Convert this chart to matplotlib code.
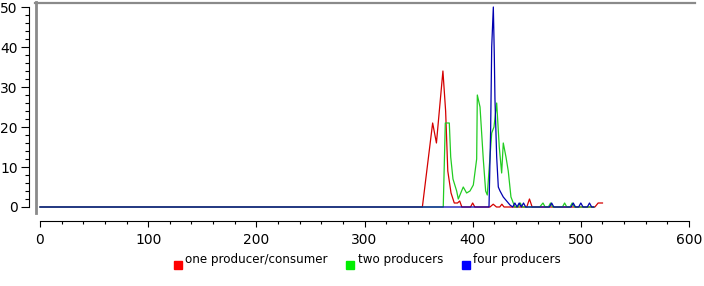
import matplotlib
matplotlib.use("Agg")
import matplotlib.pyplot as plt
from matplotlib.lines import Line2D
from matplotlib.legend_handler import HandlerLine2D
from matplotlib.ticker import MultipleLocator

plt.rcParams['font.family'] = ['DejaVu Sans']

# values
RED_X = [0, 353.5, 363, 366.5, 372.5, 375, 377, 380, 383, 386, 388, 390,
         398, 400, 402, 416, 419, 422, 425, 427, 429, 450, 452.5, 455,
         513, 516, 520]
RED_Y = [0, 0, 21, 16, 34, 24, 9, 3.5, 1, 1, 1.5, 0,
         0, 1, 0, 0, 0.7, 0, 0, 0.7, 0, 0, 2, 0,
         0, 1, 1]

GREEN_X = [0, 372.8, 374.7, 378.4, 379.7, 381.8, 385.2, 386.7, 391.3, 394.4,
           397.5, 400.6, 403.7, 404.3, 406.8, 409.8, 412, 413.5, 417.6, 419.7,
           422.2, 424.6, 426.8, 428.3, 430.8, 432.9, 435.4, 439, 442, 444,
           446, 462, 465, 467, 470, 472, 474, 483, 485, 487, 490, 492, 494,
           496, 512]
GREEN_Y = [0, 0, 21, 21, 12.5, 7, 4, 2, 5, 3.5,
           4, 5.5, 12, 28, 25, 12, 4, 3, 18.5, 20,
           26, 15, 8.5, 16, 12.5, 9, 2.5, 0, 0, 1,
           0, 0, 1, 0, 0, 1, 0, 0, 1, 0, 0, 1, 0,
           0, 0]

BLUE_X = [0, 415.1, 416.6, 417.6, 419.1, 420.0, 420.6, 422.2, 423.7, 425.3,
          428.3, 431.4, 434.5, 437, 439, 441, 443, 445, 447, 449, 471, 473,
          475, 491, 493, 495, 498, 500, 502, 506, 508, 510, 512]
BLUE_Y = [0, 0, 19, 40, 50, 38, 27, 12.5, 5, 4,
          2.5, 1.5, 0.5, 0, 1, 0, 1, 0, 1, 0, 0, 1,
          0, 0, 1, 0, 0, 1, 0, 0, 1, 0, 0]

LABELS = ['one producer/consumer', 'two producers', 'four producers']
LINE_COLORS = ['#d40000', '#22cc22', '#0000b0']
LEGEND_COLORS = ['#ff0000', '#00ee00', '#0000ff']


class LowMarker(HandlerLine2D):
    # legend square sits a bit below the text, like the original
    def create_artists(self, legend, orig_handle, xdescent, ydescent,
                       width, height, fontsize, trans):
        return super().create_artists(legend, orig_handle, xdescent,
                                      ydescent + 1.0 * fontsize, width, height,
                                      fontsize, trans)


W, H = 704, 286
fig = plt.figure(figsize=(W / 100, H / 100), dpi=100)

# plot area: x 0..600 -> px 40..689, y 0..50 -> py 207..7
ax = fig.add_axes([40 / W, (H - 207) / H, 649 / W, 200 / H])
ax.set_xlim(0, 600)
ax.set_ylim(0, 50)

for xs, ys, c in zip([RED_X, GREEN_X, BLUE_X], [RED_Y, GREEN_Y, BLUE_Y], LINE_COLORS):
    ax.plot(xs, ys, color=c, linewidth=0.9, clip_on=False)

for s in ['top', 'right']:
    ax.spines[s].set_visible(False)
ax.spines['left'].set_position(('outward', 8))
ax.spines['left'].set_bounds(0, 50)
ax.spines['bottom'].set_position(('outward', 10))
ax.spines['bottom'].set_bounds(0, 600)
for s in ['left', 'bottom']:
    ax.spines[s].set_linewidth(0.8)
    ax.spines[s].set_color('black')

ax.xaxis.set_major_locator(MultipleLocator(100))
ax.xaxis.set_minor_locator(MultipleLocator(20))
ax.yaxis.set_major_locator(MultipleLocator(10))
ax.yaxis.set_minor_locator(MultipleLocator(2))
ax.tick_params(axis='y', which='major', direction='out', length=6, width=0.8,
               labelsize=10, pad=2)
ax.tick_params(axis='y', which='minor', direction='out', length=3, width=0.8)
ax.tick_params(axis='x', which='major', direction='out', length=4.5, width=0.8,
               labelsize=10, pad=4)
ax.tick_params(axis='x', which='minor', direction='out', length=2.5, width=0.8)

# grey frame on the left and top of the plot area
fig.add_artist(Line2D([35.5 / W, 35.5 / W], [(H - 2) / H, (H - 213) / H],
                      color='#8a8a8a', linewidth=2, transform=fig.transFigure))
fig.add_artist(Line2D([34.5 / W, 695 / W], [(H - 3) / H, (H - 3) / H],
                      color='#8a8a8a', linewidth=1.6, transform=fig.transFigure))

handles = [Line2D([], [], linestyle='none', marker='s', markersize=5.5,
                  markerfacecolor=c, markeredgecolor=c) for c in LEGEND_COLORS]
fig.legend(handles, LABELS, loc='center', bbox_to_anchor=(0.522, 0.093),
           ncol=3, frameon=False, fontsize=8.6, handlelength=0.6,
           handletextpad=0.3, columnspacing=1.6,
           handler_map={Line2D: LowMarker()})

fig.savefig('out.png', dpi=100)
